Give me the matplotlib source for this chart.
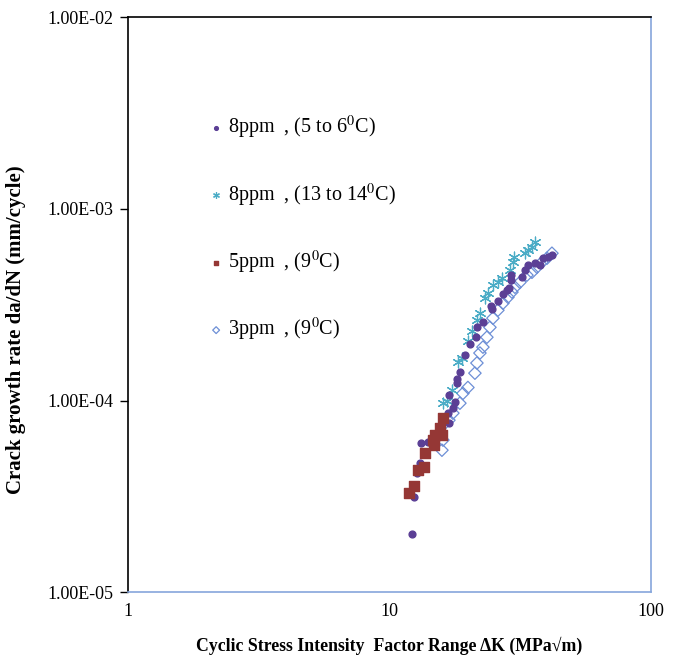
import numpy as np
import matplotlib
matplotlib.use('Agg')
import matplotlib.pyplot as plt
from matplotlib.ticker import FuncFormatter, NullLocator

plt.rcParams['font.family'] = ['Liberation Serif', 'DejaVu Serif']
plt.rcParams['mathtext.fontset'] = 'stix'

# 8ppm, 5 to 6 C
dk_8a = [12.19, 12.41, 12.74, 13.08, 13.20, 14.04, 16.89, 16.74, 17.49, 17.80, 16.89, 18.12,
         18.12, 18.60, 19.44, 20.32, 21.42, 21.61, 22.78, 24.66, 24.44, 25.99, 27.17, 28.14,
         28.64, 29.15, 29.15, 32.11, 32.97, 33.85, 36.01, 37.63, 38.64, 40.38, 41.82]
da_8a = [2.01e-5, 3.13e-5, 4.18e-5, 4.71e-5, 6.00e-5, 6.07e-5, 7.62e-5, 8.60e-5, 9.13e-5, 9.81e-5,
         1.07e-4, 1.23e-4, 1.29e-4, 1.41e-4, 1.72e-4, 1.97e-4, 2.14e-4, 2.41e-4, 2.56e-4, 3.00e-4,
         3.11e-4, 3.30e-4, 3.59e-4, 3.77e-4, 3.86e-4, 4.25e-4, 4.51e-4, 4.40e-4, 4.79e-4, 5.08e-4,
         5.21e-4, 5.08e-4, 5.53e-4, 5.60e-4, 5.73e-4]

# 8ppm, 13 to 14 C
dk_8b = [16.02, 16.60, 17.30, 18.28, 18.93, 19.96, 20.70, 21.61, 22.19, 23.18, 23.80, 24.88,
         25.99, 26.93, 28.89, 29.67, 29.93, 32.97, 33.85, 35.07, 36.01]
da_8b = [9.69e-5, 1.00e-4, 1.14e-4, 1.59e-4, 1.66e-4, 2.04e-4, 2.30e-4, 2.63e-4, 2.86e-4, 3.42e-4,
         3.63e-4, 4.00e-4, 4.14e-4, 4.35e-4, 4.79e-4, 5.27e-4, 5.60e-4, 5.87e-4, 6.09e-4, 6.31e-4,
         6.70e-4]

# 5ppm, 9 C
dk_5 = [11.87, 12.41, 12.85, 13.55, 13.67, 14.80, 14.67, 15.88, 14.93, 15.61, 16.02]
da_5 = [3.29e-5, 3.58e-5, 4.33e-5, 4.49e-5, 5.31e-5, 5.85e-5, 6.22e-5, 6.60e-5, 6.60e-5, 7.18e-5,
        8.09e-5]

# 3ppm, 9 C
dk_3 = [15.88, 16.02, 16.02, 16.89, 17.49, 18.60, 19.10, 19.96, 21.23, 21.61, 22.19, 22.78,
        23.59, 24.23, 24.88, 25.99, 27.17, 28.39, 29.41, 30.20, 31.55, 33.56, 35.07, 36.65,
        38.31, 40.03, 41.82]
da_3 = [5.51e-5, 6.22e-5, 7.44e-5, 7.90e-5, 8.60e-5, 9.69e-5, 1.09e-4, 1.17e-4, 1.39e-4, 1.57e-4,
        1.77e-4, 1.90e-4, 2.14e-4, 2.41e-4, 2.69e-4, 2.96e-4, 3.22e-4, 3.46e-4, 3.68e-4, 3.90e-4,
        4.14e-4, 4.51e-4, 4.67e-4, 4.96e-4, 5.27e-4, 5.53e-4, 5.87e-4]

labels = ['8ppm  , (5 to 6$^0$C)', '8ppm  , (13 to 14$^0$C)', '5ppm  , (9$^0$C)', '3ppm  , (9$^0$C)']

fig = plt.figure(figsize=(6.76, 6.61), dpi=100)
ax = fig.add_axes([0.189, 0.104, 0.774, 0.870])

ax.scatter(dk_8a, da_8a, s=24, marker='o', color='#5b3f95', label=labels[0], zorder=3)
ax.scatter(dk_8b, da_8b, s=60, marker=(6, 2, 0), color='#4bacc6', linewidths=0.9,
           label=labels[1], zorder=2)
ax.scatter(dk_5, da_5, s=42, marker='s', color='#953735', label=labels[2], zorder=4)
ax.scatter(dk_3, da_3, s=40, marker='D', facecolors='none', edgecolors='#6d8fd6',
           linewidths=0.9, label=labels[3], zorder=1)

ax.set_xscale('log')
ax.set_yscale('log')
ax.set_xlim(1, 100)
ax.set_ylim(1e-5, 1e-2)
ax.set_xticks([1, 10, 100])
ax.set_yticks([1e-5, 1e-4, 1e-3, 1e-2])
ax.xaxis.set_minor_locator(NullLocator())
ax.yaxis.set_minor_locator(NullLocator())
ax.xaxis.set_major_formatter(FuncFormatter(lambda v, p: f'{v:g}'))
ax.yaxis.set_major_formatter(FuncFormatter(lambda v, p: f'{v:.2E}'))
ax.tick_params(axis='y', direction='out', length=6, width=1, labelsize=13, pad=4)
ax.tick_params(axis='x', length=0, labelsize=13, pad=8)

for side in ['left', 'top']:
    ax.spines[side].set_color('black')
    ax.spines[side].set_linewidth(1.2)
for side in ['bottom', 'right']:
    ax.spines[side].set_color('#86a6dc')
    ax.spines[side].set_linewidth(1.2)

ax.set_xlabel('Cyclic Stress Intensity  Factor Range \u0394K (MPa\u221am)',
              fontsize=12.8, fontweight='bold', labelpad=12)
ax.set_ylabel('Crack growth rate da/dN (mm/cycle)', fontsize=15, fontweight='bold')
ax.yaxis.set_label_coords(-0.195, 0.456)

leg = ax.legend(loc='upper left', bbox_to_anchor=(0.115, 0.863), frameon=False, fontsize=14.5,
                labelspacing=2.0, handlelength=1.0, handletextpad=0.1, markerscale=0.55,
                scatterpoints=1)

fig.savefig('out.png', dpi=100)
